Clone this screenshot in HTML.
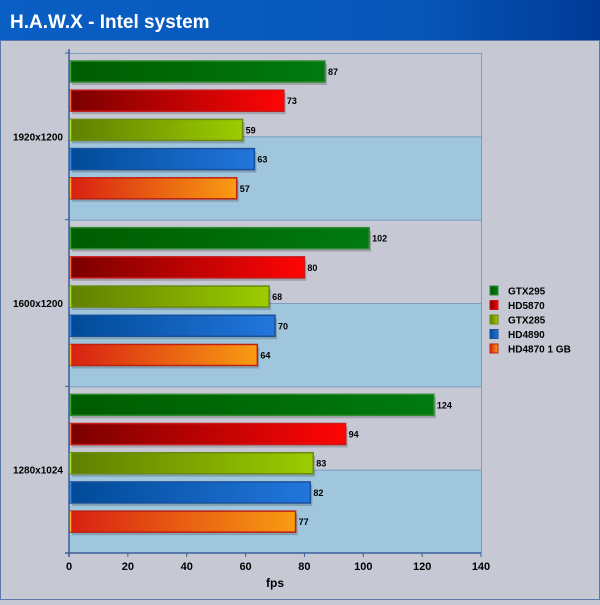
<!DOCTYPE html>
<html><head><meta charset="utf-8"><style>
body{margin:0;width:600px;height:600px;overflow:hidden;background:#c6c8d4;font-family:"Liberation Sans",Arial,sans-serif}
</style></head><body>
<svg width="600" height="600" xmlns="http://www.w3.org/2000/svg">
<defs>
<linearGradient id="tb" x1="0" x2="1"><stop offset="0" stop-color="#0a5fc4"/><stop offset="0.7" stop-color="#0656b8"/><stop offset="1" stop-color="#003a96"/></linearGradient>
<linearGradient id="g0" x1="0" x2="1"><stop offset="0" stop-color="#005c00"/><stop offset="1" stop-color="#007a10"/></linearGradient>
<linearGradient id="g1" x1="0" x2="1"><stop offset="0" stop-color="#7a0000"/><stop offset="1" stop-color="#ff0505"/></linearGradient>
<linearGradient id="g2" x1="0" x2="1"><stop offset="0" stop-color="#5f7f00"/><stop offset="1" stop-color="#9ccc00"/></linearGradient>
<linearGradient id="g3" x1="0" x2="1"><stop offset="0" stop-color="#004a98"/><stop offset="1" stop-color="#2276dc"/></linearGradient>
<linearGradient id="g4" x1="0" x2="1"><stop offset="0" stop-color="#d82012"/><stop offset="1" stop-color="#f89c12"/></linearGradient>
</defs>
<rect x="0" y="0" width="600" height="600" fill="#c6c8d4"/>
<rect x="0.5" y="40.5" width="599" height="559" fill="none" stroke="#5a7aa8"/>
<rect x="0" y="0" width="600" height="40" fill="url(#tb)"/>
<text x="10" y="28" fill="#fff" font-size="19" font-weight="bold">H.A.W.X - Intel system</text>
<g id="plot"></g>
<g id="legend"></g>
</svg>
<script>
const categories=["1920x1200","1600x1200","1280x1024"];
const seriesNames=["GTX295","HD5870","GTX285","HD4890","HD4870 1 GB"];
const gtx295=[87,102,124];
const hd5870=[73,80,94];
const gtx285=[59,68,83];
const hd4890=[63,70,82];
const hd4870=[57,64,77];
const xTicks=[0,20,40,60,80,100,120,140];
const series=[gtx295,hd5870,gtx285,hd4890,hd4870];
const strokes=["#2f8a2f","#c81818","#6a8a10","#1a4f9a","#c02010"];
const borders=["#40a040","#ff7040","#b0e020","#3a8ae0","#ffb020"];
const NS="http://www.w3.org/2000/svg";
const X0=69,X1=481,Y0=53,Y1=553,XMAX=140;
const xs=v=>X0+(v/XMAX)*(X1-X0);
const gh=(Y1-Y0)/categories.length;
const plot=document.getElementById('plot');
function mk(t,a,p){const e=document.createElementNS(NS,t);for(const k in a)e.setAttribute(k,a[k]);(p||plot).appendChild(e);return e;}
// bands
categories.forEach((c,i)=>{
 const top=Y0+i*gh;
 const band=mk('rect',{x:X0,y:top+gh/2,width:X1-X0,height:gh/2,fill:'#9fc6dc'});
 
 
 mk('line',{x1:X0,x2:X1,y1:top+0.5,y2:top+0.5,stroke:'#7a9cc0'});
 mk('line',{x1:X0,x2:X1,y1:top+gh/2+0.5,y2:top+gh/2+0.5,stroke:'#7a9cc0'});
 mk('line',{x1:X1+0.5,x2:X1+0.5,y1:top,y2:top+gh,stroke:'#7a9cc0'});
 const lab=mk('text',{x:63,y:top+gh/2+4,'text-anchor':'end','font-size':'10','font-weight':'bold',fill:'#000'});
 lab.textContent=c;
 
 
});
// axes
mk('line',{x1:X0,x2:X0,y1:Y0-4,y2:Y1+4,stroke:'#3a5f98','stroke-width':1.5});
mk('line',{x1:X0-4,x2:X1,y1:Y1,y2:Y1,stroke:'#3a5f98','stroke-width':1.5});
for(let i=0;i<=categories.length;i++)mk('line',{x1:X0-4,x2:X0,y1:Y0+i*gh,y2:Y0+i*gh,stroke:'#3a5f98'});
xTicks.forEach(t=>{
 mk('line',{x1:xs(t),x2:xs(t),y1:Y1,y2:Y1+4,stroke:'#3a5f98'});
 const tl=mk('text',{x:xs(t),y:Y1+17,'text-anchor':'middle','font-size':'11','font-weight':'bold'});
 tl.textContent=t;
 
 
});
const xt=mk('text',{x:275,y:587,'text-anchor':'middle','font-size':'12','font-weight':'bold'});
xt.textContent='fps';


// bars
categories.forEach((c,i)=>{
 const top=Y0+i*gh;
 series.forEach((s,j)=>{
  const y=top+8+j*29.2;
  const w=xs(s[i])-X0-1;
  mk('rect',{x:X0+3,y:y+3,width:w,height:21,fill:'#000',opacity:0.18});
  const b=mk('rect',{x:X0+1,y:y,width:w,height:21,fill:'url(#g'+j+')',stroke:strokes[j],'stroke-width':1.5});
  
  
  mk('line',{x1:X0+1.5,x2:X0+1.5,y1:y,y2:y+21,stroke:borders[j],'stroke-width':1.5});
  const v=mk('text',{x:X0+w+4,y:y+14,'font-size':'9','font-weight':'bold'});
  v.textContent=s[i];
  
  
 });
});
// legend
const lg=document.getElementById('legend');
seriesNames.forEach((n,j)=>{
 const y=286+j*14.5;
 const g=mk('g',{},lg);
 
 
 mk('rect',{x:490,y:y,width:8,height:9,fill:'url(#g'+j+')',stroke:strokes[j]},g);
 const t=mk('text',{x:508,y:y+8.5,'font-size':'10','font-weight':'bold'},g);
 t.textContent=n;
});
</script>
</body></html>
